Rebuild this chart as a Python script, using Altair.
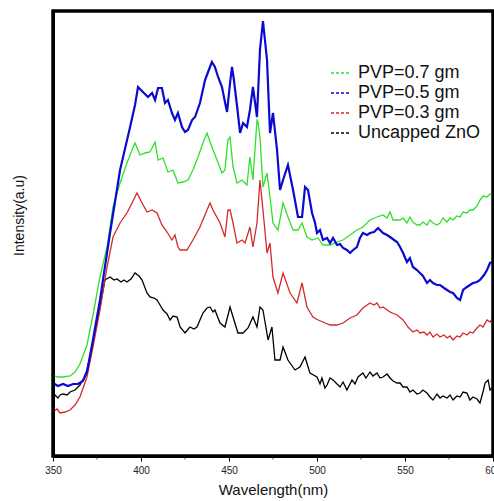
import altair as alt
import pandas as pd

series_names = ["PVP=0.7 gm", "PVP=0.5 gm", "PVP=0.3 gm", "Uncapped ZnO"]
series_colors = ["#2fe02a", "#0a0ad0", "#d42a2a", "#000000"]
series_widths = [1.3, 2.2, 1.3, 1.3]

x_major = [350, 400, 450, 500, 550, 600]
x_minor = [375, 425, 475, 525, 575]
x_domain = [350, 600]
y_domain = [0, 445]

green_wl = [350.0, 352.8, 355.7, 359.7, 362.5, 365.3, 369.3, 372.7, 376.7, 380.7, 384.1, 388.1, 392.0, 394.9, 396.6,
            399.4, 402.3, 405.1, 408.0, 409.7, 412.5, 415.3, 418.2, 421.0, 423.9, 426.7, 429.5, 432.4, 435.2, 437.5,
            440.3, 443.2, 446.0, 447.7, 449.4, 450.6, 452.3, 454.5, 457.4, 460.2, 461.9, 463.6, 465.9, 466.5, 467.6,
            469.3, 471.6, 473.3, 475.0, 477.8, 480.7, 483.5, 486.4, 489.2, 491.5, 494.3, 497.2, 500.6, 503.4, 507.4,
            511.4, 514.8, 518.8, 522.7, 526.1, 530.1, 534.1, 537.5, 539.8, 541.5, 543.2, 545.5, 547.2, 548.9, 551.1,
            552.8, 554.5, 556.8, 558.5, 560.2, 562.5, 564.2, 565.9, 568.2, 569.9, 571.6, 573.9, 575.6, 577.3, 579.5,
            581.3, 583.0, 585.2, 586.9, 588.6, 590.9, 592.6, 594.3, 596.6, 598.3, 600.0]
green_int = [81, 79, 79, 80, 84, 92, 111, 141, 179, 209, 249, 273, 293, 306, 313,
             301, 303, 304, 314, 296, 298, 284, 286, 273, 274, 276, 286, 299, 313, 323,
             309, 296, 283, 286, 316, 319, 289, 273, 276, 271, 299, 276, 336, 334, 319,
             269, 283, 259, 233, 226, 253, 239, 226, 226, 233, 219, 216, 218, 211, 211,
             214, 216, 221, 226, 229, 236, 239, 241, 238, 244, 236, 236, 236, 238, 233,
             239, 234, 231, 231, 234, 231, 236, 233, 231, 233, 238, 234, 238, 236, 240,
             239, 244, 243, 246, 246, 250, 256, 260, 259, 262, 261]

blue_wl = [350.0, 352.8, 355.7, 358.5, 361.4, 364.2, 367.0, 369.3, 372.7, 376.7, 382.4, 388.1, 393.8, 396.6, 398.3,
           401.1, 404.0, 406.3, 408.0, 409.7, 411.9, 413.6, 415.3, 417.6, 419.3, 421.0, 423.3, 425.0, 426.7, 429.0,
           430.7, 433.5, 436.4, 438.1, 440.3, 442.0, 443.8, 446.0, 447.7, 448.9, 450.6, 451.7, 452.8, 454.5, 456.3,
           458.0, 460.2, 461.9, 463.6, 465.9, 467.6, 469.3, 471.6, 473.3, 475.0, 477.3, 479.0, 480.7, 483.5, 486.4,
           489.2, 491.5, 493.2, 494.9, 497.2, 498.9, 500.0, 501.7, 503.4, 505.7, 507.4, 509.1, 511.4, 513.1, 514.8,
           517.0, 518.8, 520.5, 522.7, 524.4, 526.1, 528.4, 530.1, 532.4, 534.7, 537.5, 539.8, 541.5, 543.8, 545.5,
           547.2, 548.9, 551.1, 552.8, 554.5, 556.8, 558.5, 560.2, 562.5, 564.2, 565.9, 568.2, 569.9, 572.2, 573.9,
           575.6, 577.3, 579.5, 581.3, 583.0, 585.2, 586.9, 588.6, 590.9, 592.6, 594.9, 596.6, 598.3, 600.0]
blue_int = [73, 70, 72, 70, 72, 72, 75, 84, 116, 156, 223, 286, 329, 351, 369,
            364, 359, 363, 356, 368, 368, 353, 356, 343, 336, 343, 329, 324, 326, 336,
            339, 353, 376, 384, 394, 389, 379, 369, 354, 344, 373, 389, 376, 351, 323,
            333, 329, 346, 369, 339, 406, 435, 396, 323, 343, 306, 266, 276, 291, 266,
            239, 239, 269, 266, 243, 233, 223, 226, 216, 218, 213, 218, 211, 212, 208,
            206, 203, 206, 209, 218, 223, 221, 223, 224, 228, 223, 221, 219, 216, 214,
            209, 203, 194, 198, 189, 186, 183, 180, 173, 176, 173, 171, 171, 168, 166,
            164, 163, 158, 156, 166, 169, 171, 173, 174, 176, 181, 186, 193, 194]

red_wl = [350.0, 352.3, 354.0, 356.8, 359.7, 362.5, 365.3, 369.3, 372.7, 376.7, 380.7, 384.1, 388.1, 392.0, 394.9,
          397.7, 400.6, 403.4, 406.3, 409.1, 411.9, 414.8, 417.6, 419.3, 421.0, 422.2, 426.1, 429.5, 433.5, 437.5,
          439.2, 440.9, 444.9, 447.7, 449.4, 450.6, 452.3, 454.5, 457.4, 459.1, 461.9, 463.6, 465.9, 467.6, 469.3,
          471.6, 473.3, 475.0, 477.8, 480.7, 484.7, 488.6, 491.5, 494.3, 497.7, 500.6, 503.4, 507.4, 511.4, 514.8,
          518.8, 522.7, 526.1, 530.1, 532.4, 534.1, 535.8, 537.5, 541.5, 545.5, 548.9, 551.7, 554.5, 556.8, 558.5,
          560.8, 562.5, 564.2, 565.9, 568.2, 569.9, 572.2, 573.9, 575.6, 577.3, 579.5, 581.3, 583.0, 585.2, 586.9,
          588.6, 590.9, 592.6, 594.3, 596.6, 598.3, 600.0]
red_int = [44, 47, 43, 44, 46, 51, 59, 79, 109, 146, 189, 219, 233, 243, 253,
           263, 253, 244, 246, 243, 231, 224, 216, 221, 209, 206, 206, 216, 229, 246,
           253, 246, 233, 219, 246, 246, 233, 213, 216, 213, 229, 209, 233, 276, 246,
           203, 213, 179, 163, 183, 163, 153, 173, 149, 139, 136, 134, 131, 131, 133,
           138, 141, 148, 153, 151, 153, 148, 149, 144, 141, 136, 129, 124, 126, 123,
           124, 121, 124, 119, 122, 119, 121, 118, 120, 116, 120, 119, 123, 121, 124,
           123, 128, 131, 129, 136, 134, 138]

black_wl = [350.0, 351.1, 352.8, 354.0, 355.7, 358.0, 359.7, 362.5, 365.3, 367.6, 369.3, 372.7, 376.7, 379.5, 382.4,
            384.7, 386.4, 388.6, 390.3, 392.0, 394.3, 396.6, 398.9, 400.6, 403.4, 405.1, 407.4, 409.1, 410.8, 412.5,
            414.8, 416.5, 418.2, 420.5, 422.2, 425.0, 427.8, 430.1, 431.8, 433.5, 435.2, 437.5, 439.2, 440.9, 442.0,
            444.9, 447.7, 450.6, 452.3, 455.1, 458.0, 460.8, 463.6, 465.9, 467.6, 469.3, 472.2, 474.4, 476.1, 479.0,
            480.7, 483.5, 487.5, 490.3, 493.2, 496.0, 500.0, 501.7, 502.8, 504.5, 505.7, 507.4, 509.1, 511.4, 513.1,
            514.8, 517.0, 519.9, 521.6, 523.3, 526.1, 527.8, 530.1, 531.8, 534.1, 535.8, 537.5, 539.8, 541.5, 543.2,
            545.5, 547.2, 548.9, 551.1, 552.8, 554.5, 556.8, 558.5, 560.2, 562.5, 564.2, 565.9, 568.2, 569.9, 571.6,
            573.9, 575.6, 577.3, 579.5, 581.3, 583.0, 585.2, 586.9, 588.6, 590.9, 592.6, 594.3, 595.5, 597.2, 598.3,
            600.0]
black_int = [56, 61, 58, 61, 62, 61, 64, 66, 71, 78, 86, 113, 149, 176, 179,
             176, 177, 174, 176, 174, 177, 183, 180, 176, 163, 159, 158, 156, 151, 146,
             142, 136, 140, 139, 129, 123, 129, 127, 129, 136, 143, 148, 149, 144, 146,
             133, 129, 149, 139, 123, 123, 128, 139, 129, 149, 146, 116, 129, 96, 96,
             109, 96, 86, 89, 99, 83, 79, 72, 78, 68, 71, 78, 76, 72, 69,
             74, 66, 76, 72, 79, 83, 78, 84, 80, 83, 78, 79, 82, 78, 75,
             73, 73, 69, 69, 64, 66, 62, 63, 66, 63, 59, 56, 62, 58, 60,
             58, 61, 56, 60, 59, 64, 63, 56, 59, 57, 53, 64, 73, 76, 66,
             69]

pairs = [(green_wl, green_int), (blue_wl, blue_int), (red_wl, red_int), (black_wl, black_int)]

FONT = "Liberation Sans"

x_scale = alt.Scale(domain=x_domain, nice=False, zero=False)
y_scale = alt.Scale(domain=y_domain, nice=False, zero=False)
color_scale = alt.Scale(domain=series_names, range=series_colors)

x_axis = alt.Axis(values=x_major, format="d", title="Wavelength(nm)", grid=False,
                  domain=True, domainColor="#000000", domainWidth=3,
                  tickSize=5, tickColor="#000000", tickWidth=1,
                  labelFont=FONT, labelFontSize=10, labelColor="#222222", labelPadding=4,
                  labelFlush=False,
                  titleFont=FONT, titleFontSize=15, titleFontWeight="normal", titleColor="#111111",
                  titleX=220, titleY=33, titleAlign="center", titleBaseline="middle")
y_axis = alt.Axis(labels=False, ticks=False, domain=True, domainColor="#000000", domainWidth=3,
                  grid=False, title="Intensity(a.u)",
                  titleFont=FONT, titleFontSize=14, titleFontWeight="normal", titleColor="#111111",
                  titleAngle=270, titleX=-34, titleY=204, titleAlign="center", titleBaseline="middle")
legend = alt.Legend(title=None, orient="none", legendX=277, legendY=52,
                    symbolType="stroke", symbolDash=[3, 2], symbolStrokeWidth=1.5,
                    symbolSize=324, labelFont=FONT, labelFontSize=18, labelColor="#111111",
                    labelOffset=8, rowPadding=1, padding=0, labelLimit=300)

layers = []
for k in [3, 2, 0, 1]:
    name = series_names[k]
    wl, inten = pairs[k]
    assert len(wl) == len(inten), (name, len(wl), len(inten))
    d = pd.DataFrame({"wl": wl, "intensity": inten, "series": name})
    layers.append(
        alt.Chart(d).mark_line(strokeWidth=series_widths[k]).encode(
            x=alt.X("wl:Q", scale=x_scale, axis=x_axis),
            y=alt.Y("intensity:Q", scale=y_scale, axis=y_axis),
            color=alt.Color("series:N", scale=color_scale, legend=legend),
        )
    )

# plot frame as a rectangle spanning the scale domains
box_df = pd.DataFrame({"x0": [x_domain[0]], "x1": [x_domain[1]], "y0": [y_domain[0]], "y1": [y_domain[1]]})
box = alt.Chart(box_df).mark_rect(fillOpacity=0, stroke="#000000", strokeWidth=3, strokeOpacity=1).encode(
    x=alt.X("x0:Q", scale=x_scale),
    x2="x1:Q",
    y=alt.Y("y0:Q", scale=y_scale),
    y2="y1:Q",
)

# minor ticks below the frame
minor_df = pd.DataFrame({"wl": x_minor})
minor = alt.Chart(minor_df).mark_tick(color="#000000", thickness=1, size=3, orient="vertical").encode(
    x=alt.X("wl:Q", scale=x_scale),
    y=alt.value(447),
)

chart = alt.layer(*layers, box, minor).properties(
    width=440, height=445,
    padding={"left": 53, "top": 11, "right": 1, "bottom": 45},
    autosize="none",
).configure_view(stroke="#000000", strokeWidth=3)

chart.save("out.html", embed_options={"renderer": "svg", "actions": False})
